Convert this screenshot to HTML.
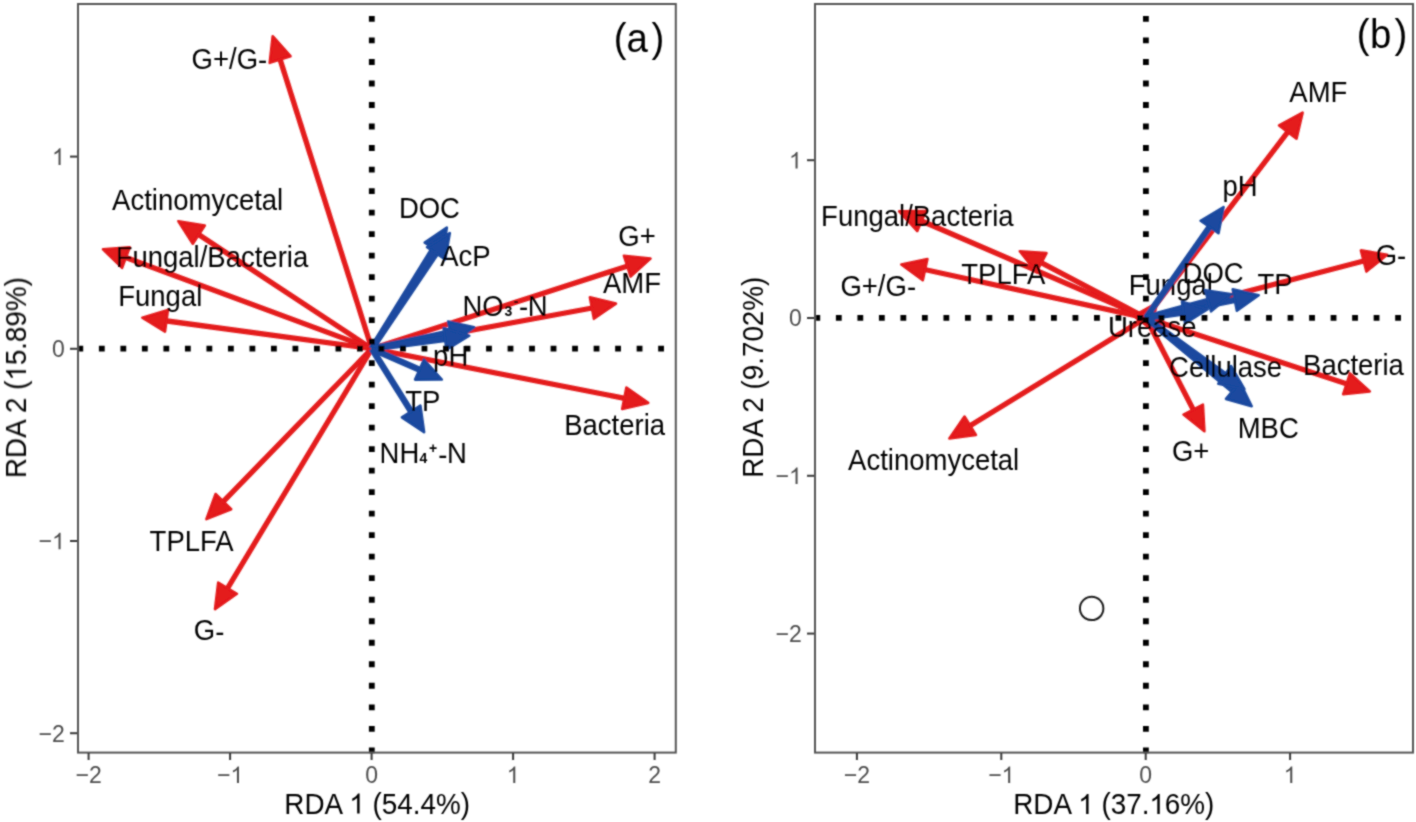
<!DOCTYPE html><html><head><meta charset="utf-8"><style>html,body{margin:0;padding:0;background:#fff;overflow:hidden}svg{display:block;will-change:transform}text{font-family:"Liberation Sans",sans-serif}</style></head><body>
<svg width="1416" height="822" viewBox="0 0 1416 822">
<defs><filter id="bl" x="0" y="0" width="1416" height="822" filterUnits="userSpaceOnUse"><feConvolveMatrix order="3" kernelMatrix="1 2 1 2 8 2 1 2 1" divisor="20" edgeMode="duplicate" preserveAlpha="false"/></filter></defs>
<rect width="1416" height="822" fill="#fff"/>
<g filter="url(#bl)">
<line x1="371.8" y1="348.7" x2="279.2" y2="56.6" stroke="#e41a1c" stroke-width="5.3"/><polygon points="272.7,36.2 290.5,56.2 269.7,62.8" fill="#e41a1c" stroke="#e41a1c" stroke-width="2.6" stroke-linejoin="round"/>
<line x1="371.8" y1="348.7" x2="196.3" y2="233.0" stroke="#e41a1c" stroke-width="5.3"/><polygon points="178.4,221.2 204.8,225.5 192.8,243.7" fill="#e41a1c" stroke="#e41a1c" stroke-width="2.6" stroke-linejoin="round"/>
<line x1="371.8" y1="348.7" x2="123.1" y2="256.6" stroke="#e41a1c" stroke-width="5.3"/><polygon points="103.0,249.2 129.7,247.4 122.1,267.8" fill="#e41a1c" stroke="#e41a1c" stroke-width="2.6" stroke-linejoin="round"/>
<line x1="371.8" y1="348.7" x2="163.5" y2="320.5" stroke="#e41a1c" stroke-width="5.3"/><polygon points="142.3,317.7 167.9,310.1 165.0,331.7" fill="#e41a1c" stroke="#e41a1c" stroke-width="2.6" stroke-linejoin="round"/>
<line x1="371.8" y1="348.7" x2="221.3" y2="503.7" stroke="#e41a1c" stroke-width="5.3"/><polygon points="206.4,519.1 215.6,494.0 231.2,509.2" fill="#e41a1c" stroke="#e41a1c" stroke-width="2.6" stroke-linejoin="round"/>
<line x1="371.8" y1="348.7" x2="226.0" y2="590.8" stroke="#e41a1c" stroke-width="5.3"/><polygon points="215.0,609.1 218.2,582.6 236.9,593.8" fill="#e41a1c" stroke="#e41a1c" stroke-width="2.6" stroke-linejoin="round"/>
<line x1="371.8" y1="348.7" x2="630.1" y2="265.2" stroke="#e41a1c" stroke-width="5.3"/><polygon points="650.5,258.6 630.6,276.5 623.9,255.7" fill="#e41a1c" stroke="#e41a1c" stroke-width="2.6" stroke-linejoin="round"/>
<line x1="371.8" y1="348.7" x2="594.9" y2="307.5" stroke="#e41a1c" stroke-width="5.3"/><polygon points="615.9,303.6 593.9,318.8 589.9,297.3" fill="#e41a1c" stroke="#e41a1c" stroke-width="2.6" stroke-linejoin="round"/>
<line x1="371.8" y1="348.7" x2="627.2" y2="398.8" stroke="#e41a1c" stroke-width="5.3"/><polygon points="648.2,402.9 622.2,408.9 626.4,387.6" fill="#e41a1c" stroke="#e41a1c" stroke-width="2.6" stroke-linejoin="round"/>
<line x1="1145.9" y1="317.8" x2="1289.6" y2="129.6" stroke="#e41a1c" stroke-width="5.3"/><polygon points="1302.6,112.6 1296.5,138.6 1279.1,125.4" fill="#e41a1c" stroke="#e41a1c" stroke-width="2.6" stroke-linejoin="round"/>
<line x1="1145.9" y1="317.8" x2="1366.5" y2="260.2" stroke="#e41a1c" stroke-width="5.3"/><polygon points="1387.2,254.8 1366.4,271.5 1360.9,250.4" fill="#e41a1c" stroke="#e41a1c" stroke-width="2.6" stroke-linejoin="round"/>
<line x1="1145.9" y1="317.8" x2="1349.4" y2="384.7" stroke="#e41a1c" stroke-width="5.3"/><polygon points="1369.8,391.4 1343.2,394.1 1350.0,373.4" fill="#e41a1c" stroke="#e41a1c" stroke-width="2.6" stroke-linejoin="round"/>
<line x1="1145.9" y1="317.8" x2="1194.6" y2="412.2" stroke="#e41a1c" stroke-width="5.3"/><polygon points="1204.4,431.2 1183.5,414.6 1202.9,404.6" fill="#e41a1c" stroke="#e41a1c" stroke-width="2.6" stroke-linejoin="round"/>
<line x1="1145.9" y1="317.8" x2="967.6" y2="427.3" stroke="#e41a1c" stroke-width="5.3"/><polygon points="949.4,438.5 964.5,416.5 975.9,435.0" fill="#e41a1c" stroke="#e41a1c" stroke-width="2.6" stroke-linejoin="round"/>
<line x1="1145.9" y1="317.8" x2="918.8" y2="219.8" stroke="#e41a1c" stroke-width="5.3"/><polygon points="899.2,211.3 925.9,211.0 917.3,231.0" fill="#e41a1c" stroke="#e41a1c" stroke-width="2.6" stroke-linejoin="round"/>
<line x1="1145.9" y1="317.8" x2="922.2" y2="269.0" stroke="#e41a1c" stroke-width="5.3"/><polygon points="901.3,264.5 927.4,259.0 922.8,280.3" fill="#e41a1c" stroke="#e41a1c" stroke-width="2.6" stroke-linejoin="round"/>
<line x1="1145.9" y1="317.8" x2="1038.8" y2="261.3" stroke="#e41a1c" stroke-width="5.3"/><polygon points="1019.8,251.3 1046.5,253.1 1036.3,272.3" fill="#e41a1c" stroke="#e41a1c" stroke-width="2.6" stroke-linejoin="round"/>
<polygon points="1157.0,302.9 1151.1,329.0 1133.7,315.9" fill="#e41a1c" stroke="#e41a1c" stroke-width="2.6" stroke-linejoin="round"/>
<text transform="translate(191.57,68.70) scale(1,1.045)" font-size="27.5" fill="#000">G+/G<tspan dy="1.25">-</tspan><tspan dy="-1.25"></tspan></text>
<text transform="translate(112.12,209.70) scale(1,1.045)" font-size="27.5" fill="#000">Actinomycetal</text>
<text transform="translate(115.68,266.60) scale(1,1.045)" font-size="27.5" fill="#000">Fungal/Bacteria</text>
<text transform="translate(118.25,305.60) scale(1,1.045)" font-size="27.5" fill="#000">Fungal</text>
<text transform="translate(149.60,550.50) scale(1,1.045)" font-size="27.5" fill="#000">TPLFA</text>
<text transform="translate(193.77,640.20) scale(1,1.045)" font-size="27.5" fill="#000">G<tspan dy="1.25">-</tspan><tspan dy="-1.25"></tspan></text>
<text transform="translate(618.35,246.00) scale(1,1.045)" font-size="27.5" fill="#000">G+</text>
<text transform="translate(603.00,293.40) scale(1,1.045)" font-size="27.5" fill="#000">AMF</text>
<text transform="translate(564.25,434.80) scale(1,1.045)" font-size="27.5" fill="#000">Bacteria</text>
<text transform="translate(1289.35,102.10) scale(1,1.045)" font-size="27.5" fill="#000">AMF</text>
<text transform="translate(821.12,226.20) scale(1,1.045)" font-size="27.5" fill="#000">Fungal/Bacteria</text>
<text transform="translate(840.42,295.80) scale(1,1.045)" font-size="27.5" fill="#000">G+/G<tspan dy="1.25">-</tspan><tspan dy="-1.25"></tspan></text>
<text transform="translate(961.30,284.00) scale(1,1.045)" font-size="27.5" fill="#000">TPLFA</text>
<text transform="translate(1128.80,294.50) scale(1,1.045)" font-size="27.5" fill="#000">Fungal</text>
<text transform="translate(1375.72,265.00) scale(1,1.045)" font-size="27.5" fill="#000">G<tspan dy="1.25">-</tspan><tspan dy="-1.25"></tspan></text>
<text transform="translate(1303.05,375.20) scale(1,1.045)" font-size="27.5" fill="#000">Bacteria</text>
<text transform="translate(1171.90,460.90) scale(1,1.045)" font-size="27.5" fill="#000">G+</text>
<text transform="translate(848.12,470.00) scale(1,1.045)" font-size="27.5" fill="#000">Actinomycetal</text>
<line x1="371.8" y1="348.7" x2="435.5" y2="245.8" stroke="#1a499f" stroke-width="6.4"/><polygon points="446.8,227.6 443.2,254.1 424.7,242.6" fill="#1a499f" stroke="#1a499f" stroke-width="2.6" stroke-linejoin="round"/>
<line x1="371.8" y1="348.7" x2="437.8" y2="250.8" stroke="#1a499f" stroke-width="6.4"/><polygon points="449.8,233.1 445.2,259.4 427.1,247.2" fill="#1a499f" stroke="#1a499f" stroke-width="2.6" stroke-linejoin="round"/>
<line x1="371.8" y1="348.7" x2="453.3" y2="331.6" stroke="#1a499f" stroke-width="6.4"/><polygon points="474.2,327.3 452.6,342.9 448.1,321.6" fill="#1a499f" stroke="#1a499f" stroke-width="2.6" stroke-linejoin="round"/>
<line x1="371.8" y1="348.7" x2="448.0" y2="338.5" stroke="#1a499f" stroke-width="6.4"/><polygon points="469.2,335.7 446.5,349.7 443.6,328.1" fill="#1a499f" stroke="#1a499f" stroke-width="2.6" stroke-linejoin="round"/>
<line x1="371.8" y1="348.7" x2="422.2" y2="370.9" stroke="#1a499f" stroke-width="6.4"/><polygon points="441.8,379.5 415.1,379.6 423.9,359.7" fill="#1a499f" stroke="#1a499f" stroke-width="2.6" stroke-linejoin="round"/>
<line x1="371.8" y1="348.7" x2="412.7" y2="414.1" stroke="#1a499f" stroke-width="6.4"/><polygon points="424.1,432.2 401.9,417.3 420.4,405.7" fill="#1a499f" stroke="#1a499f" stroke-width="2.6" stroke-linejoin="round"/>
<line x1="1145.9" y1="317.8" x2="1211.3" y2="224.6" stroke="#1a499f" stroke-width="6.4"/><polygon points="1223.6,207.1 1218.5,233.3 1200.6,220.8" fill="#1a499f" stroke="#1a499f" stroke-width="2.6" stroke-linejoin="round"/>
<line x1="1145.9" y1="317.8" x2="1237.7" y2="299.4" stroke="#1a499f" stroke-width="6.4"/><polygon points="1258.7,295.3 1236.9,310.7 1232.7,289.3" fill="#1a499f" stroke="#1a499f" stroke-width="2.6" stroke-linejoin="round"/>
<line x1="1145.9" y1="317.8" x2="1211.1" y2="300.0" stroke="#1a499f" stroke-width="6.4"/><polygon points="1231.7,294.3 1211.1,311.3 1205.3,290.3" fill="#1a499f" stroke="#1a499f" stroke-width="2.6" stroke-linejoin="round"/>
<line x1="1145.9" y1="317.8" x2="1186.5" y2="312.1" stroke="#1a499f" stroke-width="6.4"/><polygon points="1207.7,309.2 1185.1,323.3 1182.0,301.8" fill="#1a499f" stroke="#1a499f" stroke-width="2.6" stroke-linejoin="round"/>
<line x1="1145.9" y1="317.8" x2="1235.3" y2="392.4" stroke="#1a499f" stroke-width="6.4"/><polygon points="1251.7,406.2 1226.0,398.9 1240.0,382.2" fill="#1a499f" stroke="#1a499f" stroke-width="2.6" stroke-linejoin="round"/>
<line x1="1145.9" y1="317.8" x2="1227.1" y2="376.7" stroke="#1a499f" stroke-width="6.4"/><polygon points="1244.4,389.2 1218.3,383.7 1231.1,366.1" fill="#1a499f" stroke="#1a499f" stroke-width="2.6" stroke-linejoin="round"/>
<line x1="77.4" y1="348.7" x2="676" y2="348.7" stroke="#000" stroke-width="5.8" stroke-dasharray="5.8 15.71"/>
<line x1="371.8" y1="753.2" x2="371.8" y2="3" stroke="#000" stroke-width="5.8" stroke-dasharray="5.8 15.71"/>
<line x1="814.4" y1="317.8" x2="1413" y2="317.8" stroke="#000" stroke-width="5.8" stroke-dasharray="5.8 15.71"/>
<line x1="1145.9" y1="753.2" x2="1145.9" y2="3" stroke="#000" stroke-width="5.8" stroke-dasharray="5.8 15.71"/>
<circle cx="1091.65" cy="608.4" r="11.7" fill="none" stroke="#1a1a1a" stroke-width="2.0"/>
<text transform="translate(398.88,218.00) scale(1,1.045)" font-size="27.5" fill="#000">DOC</text>
<text transform="translate(440.20,265.50) scale(1,1.045)" font-size="27.5" fill="#000">AcP</text>
<text transform="translate(433.12,366.30) scale(1,1.045)" font-size="27.5" fill="#000">pH</text>
<text transform="translate(405.18,410.50) scale(1,1.045)" font-size="27.5" fill="#000">TP</text>
<text transform="translate(1222.38,195.50) scale(1,1.045)" font-size="27.5" fill="#000">pH</text>
<text transform="translate(1182.57,282.70) scale(1,1.045)" font-size="27.5" fill="#000">DOC</text>
<text transform="translate(1257.42,294.20) scale(1,1.045)" font-size="27.5" fill="#000">TP</text>
<text transform="translate(1107.97,337.20) scale(1,1.045)" font-size="27.5" fill="#000">Urease</text>
<text transform="translate(1169.05,376.80) scale(1,1.045)" font-size="27.5" fill="#000">Cellulase</text>
<text transform="translate(1237.72,437.50) scale(1,1.045)" font-size="27.5" fill="#000">MBC</text>
<text transform="translate(462.40,315.90) scale(1,1.045)" font-size="27.5" fill="#000">NO<tspan font-size="14" font-weight="bold" dx="0.8">3</tspan><tspan font-size="14" font-weight="bold" dx="1.6" dy="-9.8">-</tspan><tspan dx="0.6" dy="11.1">-</tspan><tspan dx="-0.4" dy="-1.3">N</tspan></text>
<text transform="translate(379.60,463.20) scale(1,1.045)" font-size="27.5" fill="#000">NH<tspan font-size="14" font-weight="bold" dx="0.2">4</tspan><tspan font-size="14" font-weight="bold" dx="1.8" dy="-10.1">+</tspan><tspan dx="1.0" dy="11.4">-</tspan><tspan dx="-0.5" dy="-1.3">N</tspan></text>
<text transform="translate(613.83,52.00) scale(1,1.045)" font-size="38.4" fill="#000">(</text><text transform="translate(626.45,52.00) scale(1,1.045)" font-size="38.4" fill="#000">a</text><text transform="translate(651.58,52.00) scale(1,1.045)" font-size="38.4" fill="#000">)</text>
<text transform="translate(1356.72,47.50) scale(1,1.045)" font-size="38.4" fill="#000">(</text><text transform="translate(1370.12,47.50) scale(1,1.045)" font-size="38.4" fill="#000">b</text><text transform="translate(1394.47,47.50) scale(1,1.045)" font-size="38.4" fill="#000">)</text>
<rect x="78" y="4" width="597.8" height="748.6" fill="none" stroke="#555" stroke-width="2"/>
<rect x="815" y="4" width="598" height="748.6" fill="none" stroke="#555" stroke-width="2"/>
<line x1="88.6" y1="753" x2="88.6" y2="760" stroke="#383838" stroke-width="2"/>
<g transform="translate(88.60,783.00)"><text id="t1" transform="scale(1,1.045)" x="0" y="0" text-anchor="middle" font-size="23" fill="#4d4d4d">−2</text></g>
<line x1="230.1" y1="753" x2="230.1" y2="760" stroke="#383838" stroke-width="2"/>
<g transform="translate(230.10,783.00)"><text id="t2" transform="scale(1,1.045)" x="0" y="0" text-anchor="middle" font-size="23" fill="#4d4d4d">− </text><path d="M763,0L583,0L583,1147C540,1106 483,1065 412,1023C341,981 278,950 222,930L222,1104C322,1151 410,1208 486,1276C561,1343 615,1408 646,1472L763,1472Z" fill="#4d4d4d" transform="translate(0.31,0) scale(0.011230,-0.011230)"/></g>
<line x1="371.6" y1="753" x2="371.6" y2="760" stroke="#383838" stroke-width="2"/>
<g transform="translate(371.60,783.00)"><text id="t3" transform="scale(1,1.045)" x="0" y="0" text-anchor="middle" font-size="23" fill="#4d4d4d">0</text></g>
<line x1="513.1" y1="753" x2="513.1" y2="760" stroke="#383838" stroke-width="2"/>
<g transform="translate(513.10,783.00)"><text id="t4" transform="scale(1,1.045)" x="0" y="0" text-anchor="middle" font-size="23" fill="#4d4d4d"> </text><path d="M763,0L583,0L583,1147C540,1106 483,1065 412,1023C341,981 278,950 222,930L222,1104C322,1151 410,1208 486,1276C561,1343 615,1408 646,1472L763,1472Z" fill="#4d4d4d" transform="translate(-6.40,0) scale(0.011230,-0.011230)"/></g>
<line x1="654.6" y1="753" x2="654.6" y2="760" stroke="#383838" stroke-width="2"/>
<g transform="translate(654.60,783.00)"><text id="t5" transform="scale(1,1.045)" x="0" y="0" text-anchor="middle" font-size="23" fill="#4d4d4d">2</text></g>
<line x1="70" y1="156.6" x2="77" y2="156.6" stroke="#383838" stroke-width="2"/>
<g transform="translate(64.80,164.90)"><text id="t6" transform="scale(1,1.045)" x="0" y="0" text-anchor="end" font-size="23" fill="#4d4d4d"> </text><path d="M763,0L583,0L583,1147C540,1106 483,1065 412,1023C341,981 278,950 222,930L222,1104C322,1151 410,1208 486,1276C561,1343 615,1408 646,1472L763,1472Z" fill="#4d4d4d" transform="translate(-12.80,0) scale(0.011230,-0.011230)"/></g>
<line x1="70" y1="348.8" x2="77" y2="348.8" stroke="#383838" stroke-width="2"/>
<g transform="translate(64.80,357.10)"><text id="t7" transform="scale(1,1.045)" x="0" y="0" text-anchor="end" font-size="23" fill="#4d4d4d">0</text></g>
<line x1="70" y1="541.0" x2="77" y2="541.0" stroke="#383838" stroke-width="2"/>
<g transform="translate(64.80,549.30)"><text id="t8" transform="scale(1,1.045)" x="0" y="0" text-anchor="end" font-size="23" fill="#4d4d4d">− </text><path d="M763,0L583,0L583,1147C540,1106 483,1065 412,1023C341,981 278,950 222,930L222,1104C322,1151 410,1208 486,1276C561,1343 615,1408 646,1472L763,1472Z" fill="#4d4d4d" transform="translate(-12.80,0) scale(0.011230,-0.011230)"/></g>
<line x1="70" y1="733.2" x2="77" y2="733.2" stroke="#383838" stroke-width="2"/>
<g transform="translate(64.80,741.50)"><text id="t9" transform="scale(1,1.045)" x="0" y="0" text-anchor="end" font-size="23" fill="#4d4d4d">−2</text></g>
<line x1="856.9" y1="753" x2="856.9" y2="760" stroke="#383838" stroke-width="2"/>
<g transform="translate(856.90,783.00)"><text id="t10" transform="scale(1,1.045)" x="0" y="0" text-anchor="middle" font-size="23" fill="#4d4d4d">−2</text></g>
<line x1="1001.3" y1="753" x2="1001.3" y2="760" stroke="#383838" stroke-width="2"/>
<g transform="translate(1001.30,783.00)"><text id="t11" transform="scale(1,1.045)" x="0" y="0" text-anchor="middle" font-size="23" fill="#4d4d4d">− </text><path d="M763,0L583,0L583,1147C540,1106 483,1065 412,1023C341,981 278,950 222,930L222,1104C322,1151 410,1208 486,1276C561,1343 615,1408 646,1472L763,1472Z" fill="#4d4d4d" transform="translate(0.31,0) scale(0.011230,-0.011230)"/></g>
<line x1="1145.7" y1="753" x2="1145.7" y2="760" stroke="#383838" stroke-width="2"/>
<g transform="translate(1145.70,783.00)"><text id="t12" transform="scale(1,1.045)" x="0" y="0" text-anchor="middle" font-size="23" fill="#4d4d4d">0</text></g>
<line x1="1290.1" y1="753" x2="1290.1" y2="760" stroke="#383838" stroke-width="2"/>
<g transform="translate(1290.10,783.00)"><text id="t13" transform="scale(1,1.045)" x="0" y="0" text-anchor="middle" font-size="23" fill="#4d4d4d"> </text><path d="M763,0L583,0L583,1147C540,1106 483,1065 412,1023C341,981 278,950 222,930L222,1104C322,1151 410,1208 486,1276C561,1343 615,1408 646,1472L763,1472Z" fill="#4d4d4d" transform="translate(-6.40,0) scale(0.011230,-0.011230)"/></g>
<line x1="807" y1="160.2" x2="814" y2="160.2" stroke="#383838" stroke-width="2"/>
<g transform="translate(801.80,168.50)"><text id="t14" transform="scale(1,1.045)" x="0" y="0" text-anchor="end" font-size="23" fill="#4d4d4d"> </text><path d="M763,0L583,0L583,1147C540,1106 483,1065 412,1023C341,981 278,950 222,930L222,1104C322,1151 410,1208 486,1276C561,1343 615,1408 646,1472L763,1472Z" fill="#4d4d4d" transform="translate(-12.80,0) scale(0.011230,-0.011230)"/></g>
<line x1="807" y1="318.0" x2="814" y2="318.0" stroke="#383838" stroke-width="2"/>
<g transform="translate(801.80,326.30)"><text id="t15" transform="scale(1,1.045)" x="0" y="0" text-anchor="end" font-size="23" fill="#4d4d4d">0</text></g>
<line x1="807" y1="475.8" x2="814" y2="475.8" stroke="#383838" stroke-width="2"/>
<g transform="translate(801.80,484.10)"><text id="t16" transform="scale(1,1.045)" x="0" y="0" text-anchor="end" font-size="23" fill="#4d4d4d">− </text><path d="M763,0L583,0L583,1147C540,1106 483,1065 412,1023C341,981 278,950 222,930L222,1104C322,1151 410,1208 486,1276C561,1343 615,1408 646,1472L763,1472Z" fill="#4d4d4d" transform="translate(-12.80,0) scale(0.011230,-0.011230)"/></g>
<line x1="807" y1="633.6" x2="814" y2="633.6" stroke="#383838" stroke-width="2"/>
<g transform="translate(801.80,641.90)"><text id="t17" transform="scale(1,1.045)" x="0" y="0" text-anchor="end" font-size="23" fill="#4d4d4d">−2</text></g>
<g transform="translate(377.10,813.60)"><text id="xa" transform="scale(1,1.045)" x="0" y="0" text-anchor="middle" font-size="27.85" fill="#000">RDA   (54.4%)</text><path d="M763,0L583,0L583,1147C540,1106 483,1065 412,1023C341,981 278,950 222,930L222,1104C322,1151 410,1208 486,1276C561,1343 615,1408 646,1472L763,1472Z" fill="#000" transform="translate(-27.87,0) scale(0.013599,-0.013599)"/></g>
<g transform="translate(1113.80,814.10)"><text id="xb" transform="scale(1,1.045)" x="0" y="0" text-anchor="middle" font-size="27.85" fill="#000">RDA   (37. 6%)</text><path d="M763,0L583,0L583,1147C540,1106 483,1065 412,1023C341,981 278,950 222,930L222,1104C322,1151 410,1208 486,1276C561,1343 615,1408 646,1472L763,1472Z" fill="#000" transform="translate(-35.60,0) scale(0.013599,-0.013599)"/><path d="M763,0L583,0L583,1147C540,1106 483,1065 412,1023C341,981 278,950 222,930L222,1104C322,1151 410,1208 486,1276C561,1343 615,1408 646,1472L763,1472Z" fill="#000" transform="translate(35.57,0) scale(0.013599,-0.013599)"/></g>
<g transform="translate(26.00,377.60) rotate(-90)"><text id="ya" transform="scale(1,1.045)" x="0" y="0" text-anchor="middle" font-size="27.85" fill="#000">RDA 2 ( 5.89%)</text><path d="M763,0L583,0L583,1147C540,1106 483,1065 412,1023C341,981 278,950 222,930L222,1104C322,1151 410,1208 486,1276C561,1343 615,1408 646,1472L763,1472Z" fill="#000" transform="translate(-3.12,0) scale(0.013599,-0.013599)"/></g>
<g transform="translate(762.80,377.20) rotate(-90)"><text id="yb" transform="scale(1,1.045)" x="0" y="0" text-anchor="middle" font-size="27.85" fill="#000">RDA 2 (9.702%)</text></g>
</g>
</svg></body></html>
